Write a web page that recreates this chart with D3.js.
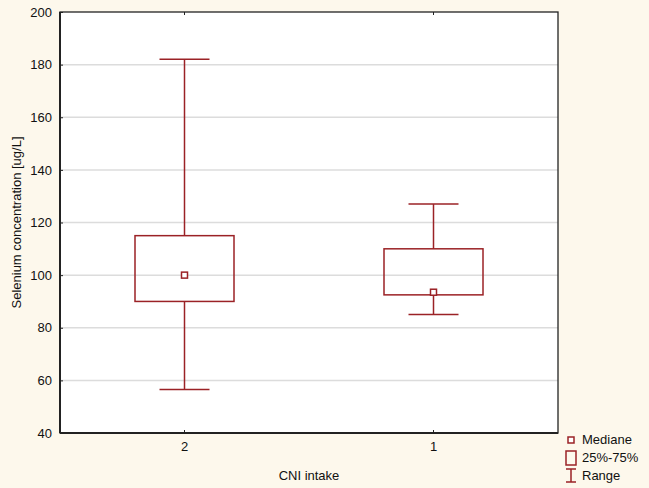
<!DOCTYPE html>
<html>
<head>
<meta charset="utf-8">
<style>
  body { margin: 0; background: #fdf8ec; }
  svg { display: block; font-family: Arial, "Liberation Sans", sans-serif; }
  .grid line { stroke: #dcdcdc; stroke-width: 1.5; }
  .axis text { font-size: 13px; fill: #111; }
</style>
</head>
<body>
<svg id="chart" width="649" height="488"></svg>
<script src="https://d3js.org/d3.v7.min.js"></script>
<script>
var groups = ["2", "1"];
var q1 = [90, 92.5];
var medians = [100, 93.5];
var q3 = [115, 110];
var mins = [56.5, 85];
var maxs = [182, 127];
var yTicks = [40, 60, 80, 100, 120, 140, 160, 180, 200];

var col = "#9b2226";
var svg = d3.select("#chart"),
    margin = {top: 12, right: 91, bottom: 55, left: 60},
    width = 649 - margin.left - margin.right,
    height = 488 - margin.top - margin.bottom;

svg.append("rect").attr("width", 649).attr("height", 488).attr("fill", "#fdf8ec");

var g = svg.append("g").attr("transform", "translate(" + margin.left + "," + margin.top + ")");

var x = d3.scaleBand().domain(groups).range([0, width]);
var y = d3.scaleLinear().domain([40, 200]).range([height, 0]);

g.append("rect").attr("width", width).attr("height", height).attr("fill", "#fff");

// grid
g.append("g").attr("class", "grid")
  .selectAll("line").data(yTicks.slice(1, -1)).enter().append("line")
    .attr("x1", 0).attr("x2", width)
    .attr("y1", d => y(d)).attr("y2", d => y(d));

var data = groups.map(function(k, i) {
  return {k: k, q1: q1[i], med: medians[i], q3: q3[i], min: mins[i], max: maxs[i]};
});
var cx = d => x(d.k) + x.bandwidth() / 2;
var boxW = 99, capW = 50;

var b = g.selectAll(".box").data(data).enter().append("g").attr("class", "box");
b.append("line").attr("x1", cx).attr("x2", cx)
  .attr("y1", d => y(d.max)).attr("y2", d => y(d.q3))
  .attr("stroke", col).attr("stroke-width", 1.5);
b.append("line").attr("x1", cx).attr("x2", cx)
  .attr("y1", d => y(d.q1)).attr("y2", d => y(d.min))
  .attr("stroke", col).attr("stroke-width", 1.5);
b.append("line").attr("x1", d => cx(d) - capW / 2).attr("x2", d => cx(d) + capW / 2)
  .attr("y1", d => y(d.max)).attr("y2", d => y(d.max))
  .attr("stroke", col).attr("stroke-width", 1.5);
b.append("line").attr("x1", d => cx(d) - capW / 2).attr("x2", d => cx(d) + capW / 2)
  .attr("y1", d => y(d.min)).attr("y2", d => y(d.min))
  .attr("stroke", col).attr("stroke-width", 1.5);
b.append("rect").attr("x", d => cx(d) - boxW / 2).attr("width", boxW)
  .attr("y", d => y(d.q3)).attr("height", d => y(d.q1) - y(d.q3))
  .attr("fill", "none").attr("stroke", col).attr("stroke-width", 1.5);
b.append("rect").attr("x", d => cx(d) - 3).attr("y", d => y(d.med) - 3)
  .attr("width", 6).attr("height", 6)
  .attr("fill", "#fff").attr("stroke", col).attr("stroke-width", 1.5);

// axes
var yAxis = g.append("g").attr("class", "axis")
  .call(d3.axisLeft(y).tickValues(yTicks).tickSize(-3).tickPadding(8));
yAxis.select(".domain").remove();
var xAxis = g.append("g").attr("class", "axis")
  .attr("transform", "translate(0," + height + ")")
  .call(d3.axisBottom(x).tickSize(-3).tickPadding(9));
xAxis.select(".domain").remove();
g.append("g").attr("class", "axis")
  .call(d3.axisTop(x).tickSize(-3).tickFormat(""))
  .select(".domain").remove();
g.selectAll(".axis .tick line").attr("stroke", "#222");

// frame
g.append("rect").attr("width", width).attr("height", height)
  .attr("fill", "none").attr("stroke", "#222").attr("stroke-width", 1.3);
g.append("line").attr("x1", 0).attr("x2", 0).attr("y1", 0).attr("y2", height)
  .attr("stroke", "#222").attr("stroke-width", 2);
g.append("line").attr("x1", 0).attr("x2", width).attr("y1", height).attr("y2", height)
  .attr("stroke", "#222").attr("stroke-width", 2);

// labels
svg.append("text").attr("x", margin.left + width / 2).attr("y", 480)
  .attr("text-anchor", "middle").attr("font-size", 13).attr("fill", "#111").text("CNI intake");
svg.append("text").attr("transform", "translate(21," + (margin.top + height / 2) + ") rotate(-90)")
  .attr("text-anchor", "middle").attr("font-size", 13).attr("fill", "#111")
  .text("Selenium concentration [ug/L]");

// legend
var lg = svg.append("g").attr("transform", "translate(571,0)");
lg.append("rect").attr("x", -3).attr("y", 437).attr("width", 6).attr("height", 6)
  .attr("fill", "#fff").attr("stroke", col).attr("stroke-width", 1.5);
lg.append("rect").attr("x", -5).attr("y", 451).attr("width", 10).attr("height", 14)
  .attr("fill", "none").attr("stroke", col).attr("stroke-width", 1.5);
lg.append("path").attr("d", "M-5,469H5M0,469V482M-5,482H5")
  .attr("fill", "none").attr("stroke", col).attr("stroke-width", 1.5);
var legText = ["Mediane", "25%-75%", "Range"];
lg.selectAll(".lt").data(legText).enter().append("text")
  .attr("x", 11).attr("y", (d, i) => 444 + i * 18)
  .attr("font-size", 13).attr("fill", "#111").text(d => d);
</script>
</body>
</html>
